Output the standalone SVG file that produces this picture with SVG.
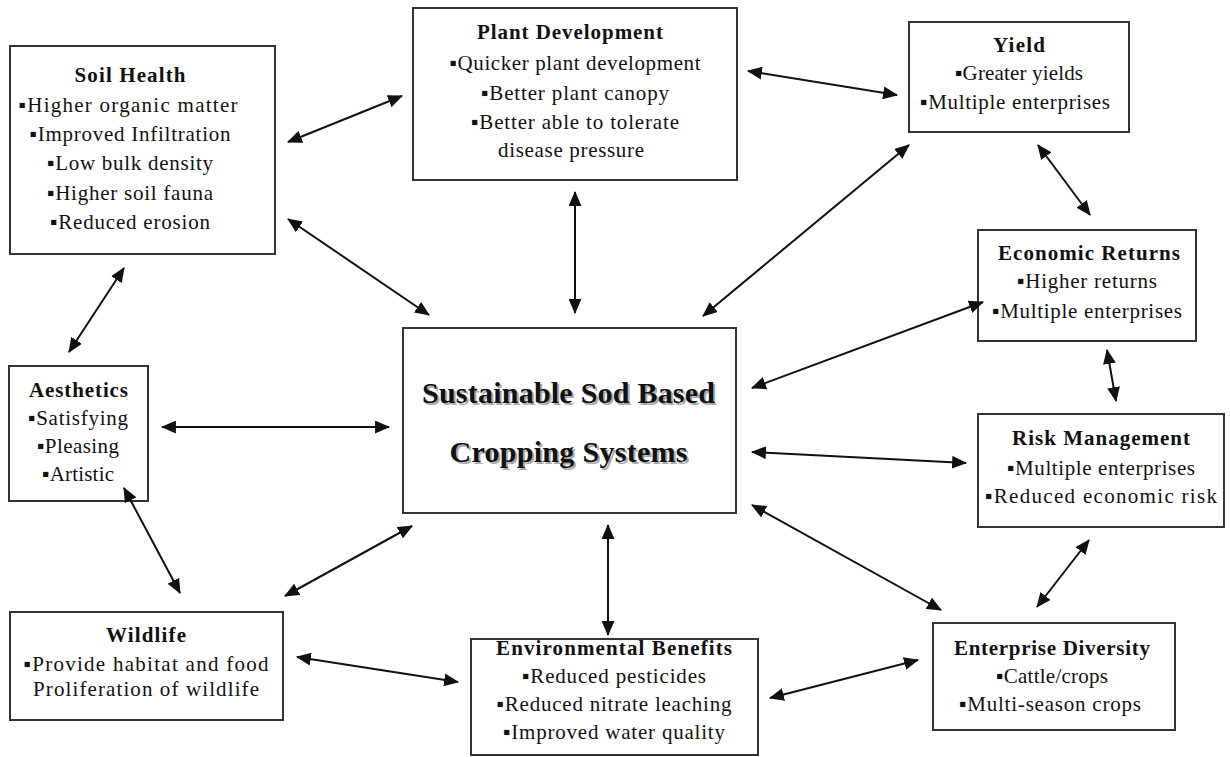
<svg xmlns="http://www.w3.org/2000/svg" width="1231" height="757" viewBox="0 0 1231 757">
<style>
.box{fill:#fff;stroke:#333;stroke-width:2}
text{font-family:"Liberation Serif","Times New Roman",serif;fill:#111;text-anchor:middle}
.t{font-size:21px;font-weight:bold}
.l{font-size:21px}
.c{font-size:30px;font-weight:bold}
.sh{fill:#aaa}
.conn line{stroke:#111;stroke-width:2;marker-start:url(#ah);marker-end:url(#ah)}
</style>
<defs>
<marker id="ah" viewBox="0 0 14 12" refX="13" refY="6" markerWidth="15" markerHeight="13" markerUnits="userSpaceOnUse" orient="auto-start-reverse">
<path d="M0,0 L14,6 L0,12 z" fill="#111"/>
</marker>
</defs>
<rect width="1231" height="757" fill="#fff"/>

<g id="soil-health">
<rect class="box" x="10" y="46" width="265" height="208"/>
<text class="t" x="130" y="82" textLength="111">Soil Health</text>
<text class="l" x="128" y="112" textLength="219">▪Higher organic matter</text>
<text class="l" x="130" y="141" textLength="201">▪Improved Infiltration</text>
<text class="l" x="130" y="170" textLength="166">▪Low bulk density</text>
<text class="l" x="130" y="200" textLength="166">▪Higher soil fauna</text>
<text class="l" x="130" y="229" textLength="160">▪Reduced erosion</text>
</g>

<g id="plant-development">
<rect class="box" x="413" y="8" width="324" height="172"/>
<text class="t" x="570" y="39" textLength="186">Plant Development</text>
<text class="l" x="575" y="70" textLength="251">▪Quicker plant development</text>
<text class="l" x="575" y="100" textLength="188">▪Better plant canopy</text>
<text class="l" x="575" y="129" textLength="208">▪Better able to tolerate</text>
<text class="l" x="571" y="157" textLength="146">disease pressure</text>
</g>

<g id="yield">
<rect class="box" x="909" y="22" width="220" height="110"/>
<text class="t" x="1019" y="52" textLength="52">Yield</text>
<text class="l" x="1019" y="80" textLength="128">▪Greater yields</text>
<text class="l" x="1015" y="109" textLength="190">▪Multiple enterprises</text>
</g>

<g id="economic-returns">
<rect class="box" x="978" y="230" width="218" height="111"/>
<text class="t" x="1089" y="260" textLength="182">Economic Returns</text>
<text class="l" x="1087" y="288" textLength="140">▪Higher returns</text>
<text class="l" x="1087" y="318" textLength="190">▪Multiple enterprises</text>
</g>

<g id="risk-management">
<rect class="box" x="978" y="414" width="246" height="113"/>
<text class="t" x="1101" y="445" textLength="178">Risk Management</text>
<text class="l" x="1101" y="475" textLength="188">▪Multiple enterprises</text>
<text class="l" x="1101" y="503" textLength="232">▪Reduced economic risk</text>
</g>

<g id="aesthetics">
<rect class="box" x="9" y="366" width="139" height="135"/>
<text class="t" x="78.5" y="397" textLength="99">Aesthetics</text>
<text class="l" x="78" y="425" textLength="100">▪Satisfying</text>
<text class="l" x="78" y="453" textLength="82">▪Pleasing</text>
<text class="l" x="78" y="481" textLength="72">▪Artistic</text>
</g>

<g id="wildlife">
<rect class="box" x="10" y="612" width="273" height="108"/>
<text class="t" x="146" y="642" textLength="80">Wildlife</text>
<text class="l" x="146" y="671" textLength="245">▪Provide habitat and food</text>
<text class="l" x="146" y="696" textLength="226">Proliferation of wildlife</text>
</g>

<g id="environmental-benefits">
<rect class="box" x="471" y="639" width="287" height="116"/>
<text class="t" x="614" y="655" textLength="236">Environmental Benefits</text>
<text class="l" x="614" y="683" textLength="184">▪Reduced pesticides</text>
<text class="l" x="614" y="711" textLength="235">▪Reduced nitrate leaching</text>
<text class="l" x="614" y="739" textLength="222">▪Improved water quality</text>
</g>

<g id="enterprise-diversity">
<rect class="box" x="933" y="623" width="242" height="107"/>
<text class="t" x="1052" y="655" textLength="196">Enterprise Diversity</text>
<text class="l" x="1052" y="683" textLength="112">▪Cattle/crops</text>
<text class="l" x="1050" y="711" textLength="182">▪Multi-season crops</text>
</g>

<g id="center">
<rect class="box" x="403" y="328" width="333" height="185"/>
<text class="c sh" x="570.5" y="405" textLength="293">Sustainable Sod Based</text>
<text class="c sh" x="570.5" y="464" textLength="238">Cropping Systems</text>
<text class="c" x="568.5" y="403" textLength="293">Sustainable Sod Based</text>
<text class="c" x="568.5" y="462" textLength="238">Cropping Systems</text>
</g>

<g id="connectors" class="conn">
<line x1="288" y1="142" x2="402" y2="96"/>
<line x1="748" y1="71" x2="897" y2="95"/>
<line x1="288" y1="219" x2="429" y2="315"/>
<line x1="575" y1="192" x2="575" y2="313"/>
<line x1="909" y1="145" x2="703" y2="316"/>
<line x1="1038" y1="145" x2="1090" y2="215"/>
<line x1="983" y1="302" x2="752" y2="388"/>
<line x1="1107" y1="350" x2="1116" y2="401"/>
<line x1="752" y1="452" x2="966" y2="463"/>
<line x1="752" y1="505" x2="941" y2="610"/>
<line x1="1089" y1="540" x2="1037" y2="607"/>
<line x1="124" y1="268" x2="69" y2="352"/>
<line x1="162" y1="427" x2="389" y2="427"/>
<line x1="124" y1="488" x2="180" y2="593"/>
<line x1="285" y1="596" x2="412" y2="526"/>
<line x1="608" y1="525" x2="608" y2="635"/>
<line x1="297" y1="657" x2="458" y2="682"/>
<line x1="770" y1="698" x2="918" y2="660"/>
</g>
</svg>
